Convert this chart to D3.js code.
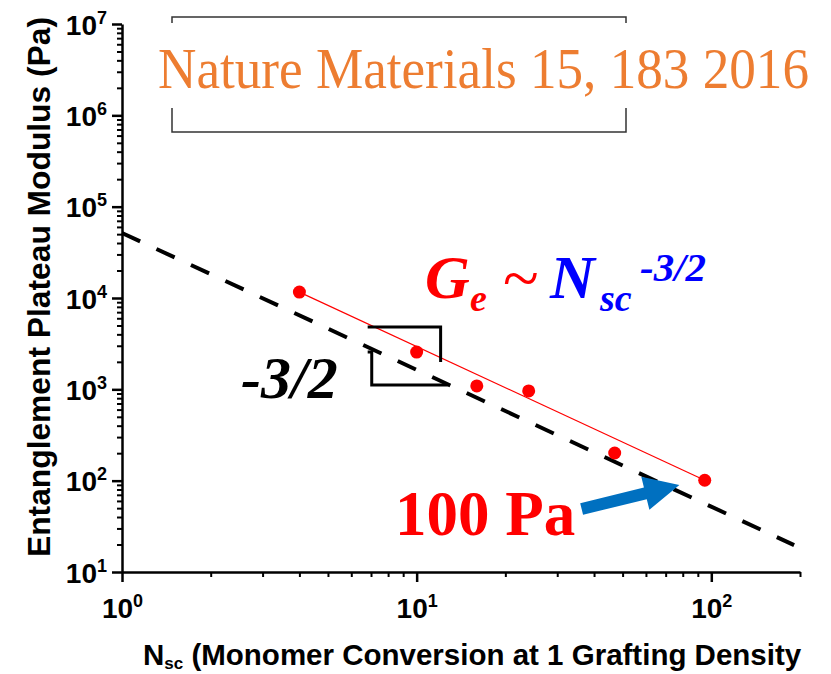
<!DOCTYPE html>
<html>
<head>
<meta charset="utf-8">
<script src="https://cdn.jsdelivr.net/npm/d3@7"></script>
<style>
  body { margin: 0; background: #fff; }
  svg { display: block; }
</style>
</head>
<body>
<div id="vis"></div>
<script>
const FRAME_WIDTH = 831;
const FRAME_HEIGHT = 674;
const MARGINS = {left: 122, right: 31, top: 24, bottom: 102};
const VIS_WIDTH = FRAME_WIDTH - MARGINS.left - MARGINS.right;
const VIS_HEIGHT = FRAME_HEIGHT - MARGINS.top - MARGINS.bottom;

// measured points
const N_SC = [4, 10, 16, 24, 47, 95];
const G_E = [11600, 2560, 1090, 960, 201, 101];
// red fit through the points
const FIT_N = [4, 95];
const FIT_G = [11600, 101];
// dashed -3/2 guide
const GUIDE_N = [1, 191];
const GUIDE_G = [51500, 19.7];

const X_DOMAIN = [1, 200];
const Y_DOMAIN = [10, 1e7];
const X_MAJOR = [1, 10, 100];
const X_MINOR = [2, 3, 4, 5, 6, 7, 8, 9, 20, 30, 40, 50, 60, 70, 80, 90, 200];
const Y_MAJOR = [1e1, 1e2, 1e3, 1e4, 1e5, 1e6, 1e7];
const Y_MINOR = [];
[1e1, 1e2, 1e3, 1e4, 1e5, 1e6].forEach(d => { for (let k = 2; k <= 9; k++) Y_MINOR.push(k * d); });

const svg = d3.select("#vis")
  .append("svg")
    .attr("width", FRAME_WIDTH)
    .attr("height", FRAME_HEIGHT);

const FRAME = svg.append("g")
    .attr("transform", "translate(" + MARGINS.left + "," + MARGINS.top + ")");

const x = d3.scaleLog().domain(X_DOMAIN).range([0, VIS_WIDTH]);
const y = d3.scaleLog().domain(Y_DOMAIN).range([VIS_HEIGHT, 0]);

const SANS = "'Liberation Sans', Arial, sans-serif";
const SERIF = "'Liberation Serif', 'Times New Roman', serif";

// power-of-ten label with superscript
function powLabel(sel, d) {
  const e = Math.round(Math.log10(d));
  sel.text(null);
  sel.append("tspan").text("10");
  sel.append("tspan").attr("dy", -11).attr("font-size", 18).text(e);
}

// x axis: minor then major
FRAME.append("g")
    .attr("transform", "translate(0," + VIS_HEIGHT + ")")
    .call(d3.axisBottom(x).tickValues(X_MINOR).tickSize(5).tickSizeOuter(0).tickFormat(""))
    .call(g => g.select(".domain").remove())
    .selectAll("line").attr("stroke-width", 2);

const xAxis = FRAME.append("g")
    .attr("transform", "translate(0," + VIS_HEIGHT + ")")
    .call(d3.axisBottom(x).tickValues(X_MAJOR).tickSize(10).tickSizeOuter(0));
xAxis.select(".domain").attr("stroke-width", 2.5);
xAxis.selectAll("line").attr("stroke-width", 2.5);
xAxis.selectAll("text")
    .attr("y", 46).attr("dy", 0)
    .attr("font-family", SANS).attr("font-weight", "bold").attr("font-size", 28)
    .attr("fill", "#000")
    .each(function(d) { powLabel(d3.select(this), d); });

// y axis
FRAME.append("g")
    .call(d3.axisLeft(y).tickValues(Y_MINOR).tickSize(5).tickSizeOuter(0).tickFormat(""))
    .call(g => g.select(".domain").remove())
    .selectAll("line").attr("stroke-width", 2);

const yAxis = FRAME.append("g")
    .call(d3.axisLeft(y).tickValues(Y_MAJOR).tickSize(10).tickSizeOuter(0));
yAxis.select(".domain").attr("stroke-width", 2.5);
yAxis.selectAll("line").attr("stroke-width", 2.5);
yAxis.selectAll("text")
    .attr("x", -15).attr("dy", 10)
    .attr("font-family", SANS).attr("font-weight", "bold").attr("font-size", 28)
    .attr("fill", "#000")
    .each(function(d) { powLabel(d3.select(this), d); });

// axis titles
svg.append("text")
    .attr("transform", "translate(50," + 287 + ") rotate(-90)")
    .attr("text-anchor", "middle")
    .attr("font-family", SANS).attr("font-weight", "bold").attr("font-size", 31)
    .attr("textLength", 540).attr("lengthAdjust", "spacingAndGlyphs")
    .text("Entanglement Plateau Modulus (Pa)");

const xt = svg.append("text")
    .attr("x", 143).attr("y", 665)
    .attr("font-family", SANS).attr("font-weight", "bold").attr("font-size", 29.5);
xt.append("tspan").text("N");
xt.append("tspan").attr("dy", 4).attr("font-size", 17).text("sc");
xt.append("tspan").attr("dy", -4).text(" (Monomer Conversion at 1 Grafting Density");

// dashed guide line
const line = d3.line().x(d => x(d[0])).y(d => y(d[1]));
FRAME.append("path")
    .datum(d3.zip(GUIDE_N, GUIDE_G))
    .attr("d", line)
    .attr("fill", "none")
    .attr("stroke", "#000")
    .attr("stroke-width", 4)
    .attr("stroke-dasharray", "20,18");

// red fit line
FRAME.append("path")
    .datum(d3.zip(FIT_N, FIT_G))
    .attr("d", line)
    .attr("fill", "none")
    .attr("stroke", "#ff0000")
    .attr("stroke-width", 1.2);

// points
FRAME.selectAll("circle.pt")
  .data(d3.zip(N_SC, G_E))
  .enter()
  .append("circle")
    .attr("class", "pt")
    .attr("cx", d => x(d[0]))
    .attr("cy", d => y(d[1]))
    .attr("r", 6.5)
    .attr("fill", "#ff0000");

// slope triangle (two open pieces)
FRAME.append("path")
    .datum([[6.82, 4810], [12.06, 4810], [12.06, 1990]])
    .attr("d", line)
    .attr("fill", "none").attr("stroke", "#000").attr("stroke-width", 3);
FRAME.append("path")
    .datum([[6.82, 2565], [7.04, 2565], [7.04, 1115], [12.74, 1115]])
    .attr("d", line)
    .attr("fill", "none").attr("stroke", "#000").attr("stroke-width", 3);

// blue arrow pointing at 100 Pa
const tail = [x(36.3), y(49)];
const tip = [x(77.9), y(89.6)];
const len = Math.hypot(tip[0] - tail[0], tip[1] - tail[1]);
const ux = (tip[0] - tail[0]) / len, uy = (tip[1] - tail[1]) / len;
const px = -uy, py = ux;
const headLen = 35, headW = 17, shaftW = 6;
const bx = tip[0] - ux * headLen, by = tip[1] - uy * headLen;
const arrowPts = [
  [tail[0] + px * shaftW, tail[1] + py * shaftW],
  [bx + px * shaftW, by + py * shaftW],
  [bx + px * headW, by + py * headW],
  tip,
  [bx - px * headW, by - py * headW],
  [bx - px * shaftW, by - py * shaftW],
  [tail[0] - px * shaftW, tail[1] - py * shaftW]
];
FRAME.append("path")
    .attr("d", "M" + arrowPts.map(p => p.join(",")).join("L") + "Z")
    .attr("fill", "#0070c0");

// annotations
svg.append("text")
    .attr("x", 241).attr("y", 398)
    .attr("font-family", SERIF).attr("font-weight", "bold").attr("font-style", "italic")
    .attr("font-size", 60).attr("fill", "#000")
    .text("-3/2");

svg.append("text")
    .attr("x", 395).attr("y", 535)
    .attr("font-family", SERIF).attr("font-weight", "bold")
    .attr("font-size", 63).attr("fill", "#ff0000")
    .text("100 Pa");

const eq = svg.append("g")
    .attr("font-family", SERIF).attr("font-weight", "bold").attr("font-style", "italic");
eq.append("text").attr("x", 425).attr("y", 298).attr("font-size", 62).attr("fill", "#ff0000").text("G");
eq.append("text").attr("x", 470).attr("y", 311).attr("font-size", 38).attr("fill", "#ff0000").text("e");
eq.append("text").attr("x", 503).attr("y", 300).attr("font-size", 66).attr("font-weight", "normal").attr("font-style", "normal").attr("fill", "#ff0000").text("~");
eq.append("text").attr("x", 550).attr("y", 298).attr("font-size", 62).attr("fill", "#0000ff").text("N");
eq.append("text").attr("x", 600).attr("y", 311).attr("font-size", 38).attr("fill", "#0000ff").text("sc");
eq.append("text").attr("x", 640).attr("y", 281).attr("font-size", 41).attr("fill", "#0000ff").text("-3/2");

// citation with bracket
const cite = svg.append("g");
cite.append("path")
    .attr("d", "M172,23V17H626V23 M172,108V132H626V108")
    .attr("fill", "none").attr("stroke", "#333").attr("stroke-width", 1.5);
cite.append("text")
    .attr("transform", "translate(158,88) scale(1,1.08)")
    .attr("font-family", SERIF).attr("font-size", 53.5).attr("fill", "#ed7d31")
    .attr("textLength", 651).attr("lengthAdjust", "spacingAndGlyphs")
    .text("Nature Materials 15, 183 2016");
</script>
</body>
</html>
